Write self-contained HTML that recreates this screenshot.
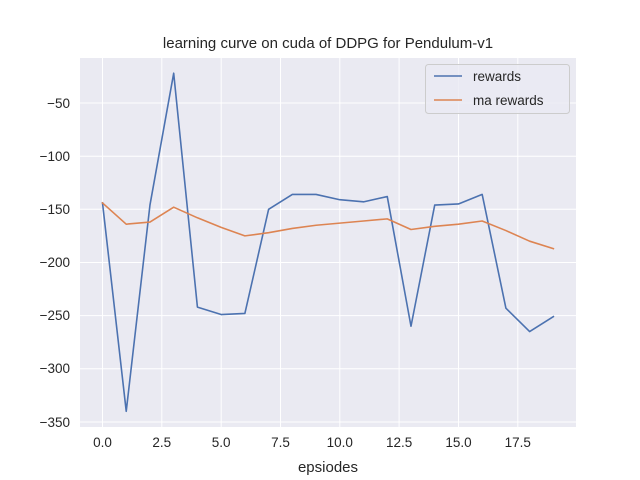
<!DOCTYPE html>
<html><head><meta charset="utf-8"><style>
html,body{margin:0;padding:0;background:#fff;}
svg{display:block;font-family:"Liberation Sans",Arial,sans-serif;}
</style></head><body>
<svg width="640" height="480" viewBox="0 0 640 480">
<rect width="640" height="480" fill="#fff"/>
<rect x="80" y="58" width="496" height="369" fill="#eaeaf2"/>
<g stroke="#fff" stroke-width="1">
<line x1="102.5" y1="58" x2="102.5" y2="427"/>
<line x1="161.8" y1="58" x2="161.8" y2="427"/>
<line x1="221.2" y1="58" x2="221.2" y2="427"/>
<line x1="280.5" y1="58" x2="280.5" y2="427"/>
<line x1="339.8" y1="58" x2="339.8" y2="427"/>
<line x1="399.1" y1="58" x2="399.1" y2="427"/>
<line x1="458.5" y1="58" x2="458.5" y2="427"/>
<line x1="517.8" y1="58" x2="517.8" y2="427"/>
<line x1="80" y1="103" x2="576" y2="103"/>
<line x1="80" y1="156.2" x2="576" y2="156.2"/>
<line x1="80" y1="209.3" x2="576" y2="209.3"/>
<line x1="80" y1="262.5" x2="576" y2="262.5"/>
<line x1="80" y1="315.6" x2="576" y2="315.6"/>
<line x1="80" y1="368.8" x2="576" y2="368.8"/>
<line x1="80" y1="422" x2="576" y2="422"/>
</g>
<g transform="translate(102.5,49.85) scale(23.73,1.063)" fill="none" stroke-linejoin="round" stroke-linecap="square">
<polyline vector-effect="non-scaling-stroke" stroke="#4c72b0" stroke-width="1.6" points="0,144 1,340 2,146 3,22 4,242 5,249 6,248 7,150 8,136 9,136 10,141 11,143 12,138 13,260 14,146 15,145 16,136 17,243 18,265 19,251"/>
<polyline vector-effect="non-scaling-stroke" stroke="#dd8452" stroke-width="1.6" points="0,144 1,164 2,162 3,148 4,158 5,167 6,175 7,172 8,168 9,165 10,163 11,161 12,159 13,169 14,166 15,164 16,161 17,170 18,180 19,187"/>
</g>
<g font-size="13.5" fill="#262626" text-anchor="middle">
<text x="102.5" y="447">0.0</text>
<text x="161.8" y="447">2.5</text>
<text x="221.2" y="447">5.0</text>
<text x="280.5" y="447">7.5</text>
<text x="339.8" y="447">10.0</text>
<text x="399.1" y="447">12.5</text>
<text x="458.5" y="447">15.0</text>
<text x="517.8" y="447">17.5</text>
</g>
<g font-size="13.5" fill="#262626" text-anchor="end">
<text x="70" y="108">−50</text>
<text x="70" y="161">−100</text>
<text x="70" y="214">−150</text>
<text x="70" y="267">−200</text>
<text x="70" y="320">−250</text>
<text x="70" y="373">−300</text>
<text x="70" y="427">−350</text>
</g>
<text x="328" y="472" font-size="15" fill="#262626" text-anchor="middle">epsiodes</text>
<text x="328" y="48" font-size="15" fill="#262626" text-anchor="middle">learning curve on cuda of DDPG for Pendulum-v1</text>
<rect x="425.5" y="64.5" width="144" height="49" rx="3" fill="#eaeaf2" fill-opacity="0.8" stroke="#ccc"/>
<line x1="434" y1="76" x2="462" y2="76" stroke="#4c72b0" stroke-width="1.6"/>
<line x1="434" y1="100" x2="462" y2="100" stroke="#dd8452" stroke-width="1.6"/>
<text x="473" y="81" font-size="13.5" fill="#262626">rewards</text>
<text x="473" y="105" font-size="13.5" fill="#262626">ma rewards</text>
</svg>
</body></html>
